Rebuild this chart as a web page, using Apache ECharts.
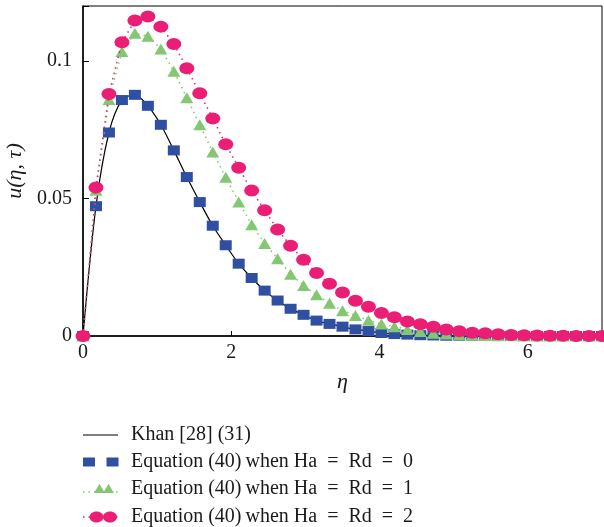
<!DOCTYPE html>
<html>
<head>
<meta charset="utf-8">
<script src="https://cdn.jsdelivr.net/npm/echarts@6/dist/echarts.min.js"></script>
<style>
html,body{margin:0;padding:0;background:#fff;}
#chart{width:604px;height:527px;}
</style>
</head>
<body>
<div id="chart"></div>
<script>
var eta = [0, 0.175, 0.35, 0.525, 0.7, 0.875, 1.05, 1.225, 1.4, 1.575, 1.75, 1.925, 2.1, 2.275, 2.45, 2.625, 2.8, 2.975, 3.15, 3.325, 3.5, 3.675, 3.85, 4.025, 4.2, 4.375, 4.55, 4.725, 4.9, 5.075, 5.25, 5.425, 5.6, 5.775, 5.95, 6.125, 6.3, 6.475, 6.65, 6.825, 7];
var khan = [0, 0.0472, 0.074, 0.0858, 0.0877, 0.0837, 0.0768, 0.0675, 0.0578, 0.0487, 0.0401, 0.033, 0.0263, 0.0211, 0.0165, 0.0129, 0.0099, 0.0077, 0.0056, 0.0044, 0.0034, 0.0024, 0.0018, 0.0011, 0.0007, 0.0005, 0.0003, 0.0002, 0.0001, 0.0001, 0.0001, 0, 0, 0, 0, 0, 0, 0, 0, 0, 0];
var ha0 = [0, 0.0472, 0.074, 0.0858, 0.0877, 0.0837, 0.0768, 0.0675, 0.0578, 0.0487, 0.0401, 0.033, 0.0263, 0.0211, 0.0165, 0.0129, 0.0099, 0.0077, 0.0056, 0.0044, 0.0034, 0.0024, 0.0018, 0.0011, 0.0007, 0.0005, 0.0003, 0.0002, 0.0001, 0.0001, 0.0001, 0, 0, 0, 0, 0, 0, 0, 0, 0, 0];
var ha1 = [0, 0.053, 0.086, 0.1035, 0.1101, 0.109, 0.1044, 0.0963, 0.0866, 0.0768, 0.0669, 0.0577, 0.0487, 0.0405, 0.0336, 0.0281, 0.0225, 0.0184, 0.015, 0.0119, 0.0092, 0.0075, 0.0057, 0.0044, 0.0034, 0.0024, 0.0016, 0.001, 0.0007, 0.0005, 0.0003, 0.0002, 0.0001, 0.0001, 0, 0, 0, 0, 0, 0, 0];
var ha2 = [0, 0.054, 0.088, 0.1068, 0.1147, 0.1162, 0.1125, 0.1062, 0.0974, 0.0883, 0.0791, 0.0697, 0.0612, 0.0529, 0.0457, 0.0387, 0.0328, 0.0277, 0.0229, 0.019, 0.0158, 0.0128, 0.0106, 0.0084, 0.0068, 0.0053, 0.0043, 0.0034, 0.0024, 0.0017, 0.0012, 0.001, 0.0006, 0.0004, 0.0003, 0.0002, 0.0001, 0.0001, 0, 0, 0];
var xTicks = [0, 2, 4, 6];
var yTicks = [0, 0.05, 0.1];
var legendNames = ['Khan [28] (31)', 'Equation (40)\u2009when Ha\u2002=\u2002Rd\u2002=\u20020', 'Equation (40)\u2009when Ha\u2002=\u2002Rd\u2002=\u20021', 'Equation (40)\u2009when Ha\u2002=\u2002Rd\u2002=\u20022'];

var BLUE = '#2f4fa3', GREEN = '#85c673', PINK = '#ea1e74';
var FONT = '"Liberation Serif", "DejaVu Serif", serif';

function pairs(ys){ return ys.map(function(v,i){ return [eta[i], v]; }); }

var chart = echarts.init(document.getElementById('chart'), null, {renderer:'canvas'});

var legendY = [435, 462, 489, 517];
var graphics = [];
graphics.push({type:'line', shape:{x1:83,y1:legendY[0],x2:118,y2:legendY[0]}, style:{stroke:'#000',lineWidth:1.2}});
graphics.push({type:'rect', shape:{x:83,y:legendY[1]-4.5,width:12,height:9}, style:{fill:BLUE}});
graphics.push({type:'rect', shape:{x:106.5,y:legendY[1]-4.5,width:12,height:9}, style:{fill:BLUE}});
graphics.push({type:'line', shape:{x1:83,y1:legendY[2]+3,x2:118,y2:legendY[2]+3}, style:{stroke:GREEN,lineWidth:1.5,lineDash:[1.5,4]}});
graphics.push({type:'polygon', shape:{points:[[94,legendY[2]+4],[105,legendY[2]+4],[99.5,legendY[2]-5]]}, style:{fill:GREEN}});
graphics.push({type:'polygon', shape:{points:[[103,legendY[2]+4],[114,legendY[2]+4],[108.5,legendY[2]-5]]}, style:{fill:GREEN}});
graphics.push({type:'line', shape:{x1:83,y1:legendY[3],x2:118,y2:legendY[3]}, style:{stroke:PINK,lineWidth:1.5,lineDash:[1.5,4]}});
graphics.push({type:'ellipse', shape:{cx:96.5,cy:legendY[3],rx:7,ry:5.5}, style:{fill:PINK}});
graphics.push({type:'ellipse', shape:{cx:110,cy:legendY[3],rx:7,ry:5.5}, style:{fill:PINK}});
legendNames.forEach(function(n,i){
  graphics.push({type:'text', x:131, y:legendY[i], style:{text:n, font:'20px '+FONT, fill:'#1a1a1a', verticalAlign:'middle', align:'left'}});
});

var option = {
  animation:false,
  backgroundColor:'#fff',
  grid:{left:83, right:2, top:6, bottom:191, show:true, borderColor:'#000', borderWidth:1, outerBoundsMode:'none', containLabel:false},
  xAxis:{
    type:'value', min:0, max:7, interval:2,
    name:'\u03b7', nameLocation:'middle', nameGap:35,
    nameTextStyle:{fontFamily:FONT, fontStyle:'italic', fontSize:22, color:'#1a1a1a'},
    axisLine:{show:true, lineStyle:{color:'#000', width:1.5}},
    axisTick:{show:true, inside:true, length:5, lineStyle:{color:'#000'}},
    axisLabel:{fontFamily:FONT, fontSize:20, color:'#1a1a1a', margin:7,
      formatter:function(v){ return xTicks.indexOf(v) >= 0 ? String(v) : ''; }},
    splitLine:{show:false}
  },
  yAxis:{
    type:'value', min:0, max:0.12, interval:0.05,
    name:'u(\u03b7, \u03c4)', nameLocation:'middle', nameGap:56, nameRotate:90,
    nameTextStyle:{fontFamily:FONT, fontStyle:'italic', fontSize:22, color:'#1a1a1a'},
    axisLine:{show:true, lineStyle:{color:'#000', width:1.5}},
    axisTick:{show:true, inside:true, length:6, lineStyle:{color:'#000'}},
    axisLabel:{fontFamily:FONT, fontSize:20, color:'#1a1a1a', margin:11,
      formatter:function(v){ for (var i=0;i<yTicks.length;i++){ if (Math.abs(v-yTicks[i])<1e-9) return String(yTicks[i]); } return ''; }},
    splitLine:{show:false}
  },
  graphic:graphics,
  series:[
    {name:legendNames[0], type:'line', data:pairs(khan), smooth:0.3, showSymbol:false, symbol:'none',
     lineStyle:{color:'#000', width:1.2}, z:2},
    {name:legendNames[1], type:'scatter', data:pairs(ha0), symbol:'rect', symbolSize:[12,10],
     itemStyle:{color:BLUE, opacity:1}, z:3},
    {name:legendNames[2], type:'line', data:pairs(ha1), symbol:'triangle', symbolSize:[13,11], showAllSymbol:true,
     lineStyle:{color:GREEN, width:1.5, type:[1.5,4]}, itemStyle:{color:GREEN}, z:4},
    {name:legendNames[3], type:'line', data:pairs(ha2), symbol:'circle', symbolSize:[15,12], showAllSymbol:true,
     lineStyle:{color:PINK, width:1.5, type:[1.5,4]}, itemStyle:{color:PINK}, z:5}
  ]
};
chart.setOption(option);
</script>
</body>
</html>
